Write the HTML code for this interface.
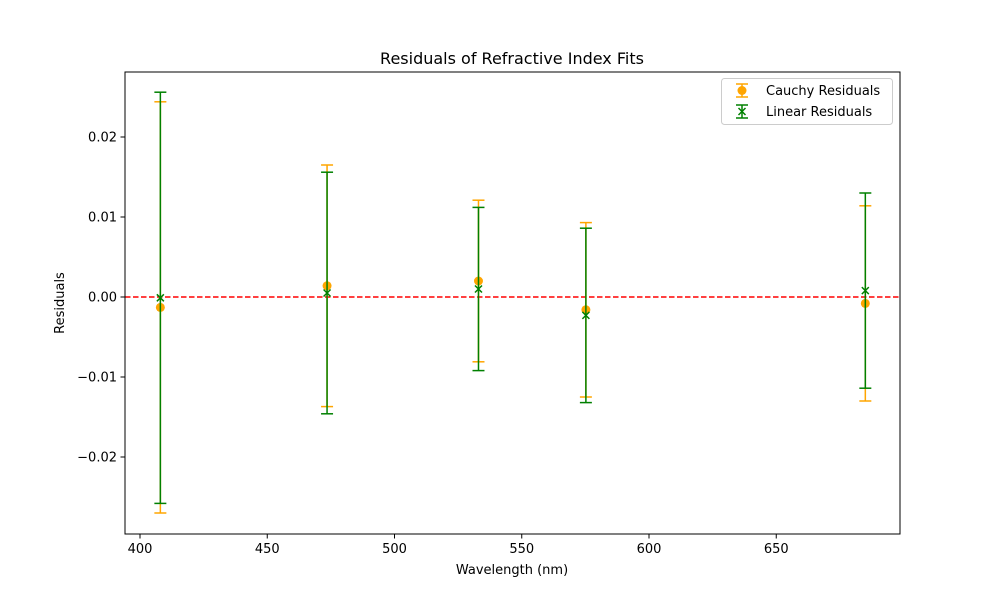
<!DOCTYPE html>
<html><head><meta charset="utf-8"><style>
html,body{margin:0;padding:0;background:#fff}
svg text{font-family:"DejaVu Sans","Liberation Sans",sans-serif;fill:#000}
</style></head><body>
<svg id="chart" width="1000" height="600">
<rect x="0" y="0" width="1000" height="600" fill="#fff"/>
<text x="512" y="64" font-size="16" text-anchor="middle">Residuals of Refractive Index Fits</text>
<g id="plot"></g>
<rect x="125" y="72" width="775" height="462" fill="none" stroke="#000" stroke-width="1"/>
<text x="512" y="574" font-size="13" text-anchor="middle">Wavelength (nm)</text>
<text transform="translate(64,303) rotate(-90)" font-size="13" text-anchor="middle">Residuals</text>
<g>
<rect x="721.5" y="78.5" width="171" height="46" rx="3" fill="#fff" fill-opacity="0.8" stroke="#ccc"/>
<line x1="742" y1="84" x2="742" y2="97" stroke="orange" stroke-width="1.5"/>
<line x1="736" y1="84" x2="748" y2="84" stroke="orange" stroke-width="1.5"/>
<line x1="736" y1="97" x2="748" y2="97" stroke="orange" stroke-width="1.5"/>
<circle cx="742" cy="90.5" r="4.5" fill="orange"/>
<text x="766" y="95" font-size="13">Cauchy Residuals</text>
<line x1="742" y1="105" x2="742" y2="118" stroke="green" stroke-width="1.5"/>
<line x1="736" y1="105" x2="748" y2="105" stroke="green" stroke-width="1.5"/>
<line x1="736" y1="118" x2="748" y2="118" stroke="green" stroke-width="1.5"/>
<path d="M738.5 108 L745.5 115 M745.5 108 L738.5 115" stroke="green" stroke-width="1.5"/>
<text x="766" y="116" font-size="13">Linear Residuals</text>
</g>
</svg>
<script>
const wavelengths=[408,473.5,533,575.2,685];
const cauchyRes=[-0.0013,0.0014,0.0020,-0.0016,-0.0008];
const cauchyErr=[0.0257,0.0151,0.0101,0.0109,0.0122];
const linearRes=[-0.0001,0.0005,0.0010,-0.0023,0.0008];
const linearErr=[0.0257,0.0151,0.0102,0.0109,0.0122];
const xTicks=[400,450,500,550,600,650];
const yTicks=[-0.02,-0.01,0,0.01,0.02];
const yTickLabels=["\u22120.02","\u22120.01","0.00","0.01","0.02"];
const NS="http://www.w3.org/2000/svg";
const xs=v=>140+(v-400)*2.545;
const ys=v=>297-v*8000;
const g=document.getElementById('plot');
function mk(t,a){const e=document.createElementNS(NS,t);for(const k in a)e.setAttribute(k,a[k]);g.appendChild(e);return e;}
xTicks.forEach((t)=>{
  const l=mk('line',{x1:xs(t),x2:xs(t),y1:534,y2:538.5,stroke:'#000'});
  
  
  const tx=mk('text',{x:xs(t),y:553,'font-size':13,'text-anchor':'middle'});tx.textContent=t;
  
  
});
yTicks.forEach((t,i)=>{
  const l=mk('line',{x1:120.5,x2:125,y1:ys(t),y2:ys(t),stroke:'#000'});
  
  
  const tx=mk('text',{x:117,y:ys(t)+4.5,'font-size':13,'text-anchor':'end'});tx.textContent=yTickLabels[i];
  
  
});
const zl=mk('line',{x1:125,x2:900,y1:ys(0),y2:ys(0),stroke:'red','stroke-width':1.5,'stroke-dasharray':'5.5,2.5'});


function errbar(x,y,e,c){
  const X=xs(x),t=ys(y+e),b=ys(y-e);
  const a=mk('line',{x1:X,x2:X,y1:t,y2:b,stroke:c,'stroke-width':1.5});
  
  
  mk('line',{x1:X-6,x2:X+6,y1:t,y2:t,stroke:c,'stroke-width':1.5});
  mk('line',{x1:X-6,x2:X+6,y1:b,y2:b,stroke:c,'stroke-width':1.5});
}
wavelengths.forEach((w,i)=>errbar(w,cauchyRes[i],cauchyErr[i],'orange'));
wavelengths.forEach((w,i)=>{
  const c=mk('circle',{cx:xs(w),cy:ys(cauchyRes[i]),r:4.5,fill:'orange'});
  
  
});
wavelengths.forEach((w,i)=>errbar(w,linearRes[i],linearErr[i],'green'));
wavelengths.forEach((w,i)=>{
  const X=xs(w),Y=ys(linearRes[i]);
  const p=mk('path',{d:`M${X-3.5} ${Y-3.5} L${X+3.5} ${Y+3.5} M${X+3.5} ${Y-3.5} L${X-3.5} ${Y+3.5}`,stroke:'green','stroke-width':1.5});
  
  
});
</script>
</body></html>
